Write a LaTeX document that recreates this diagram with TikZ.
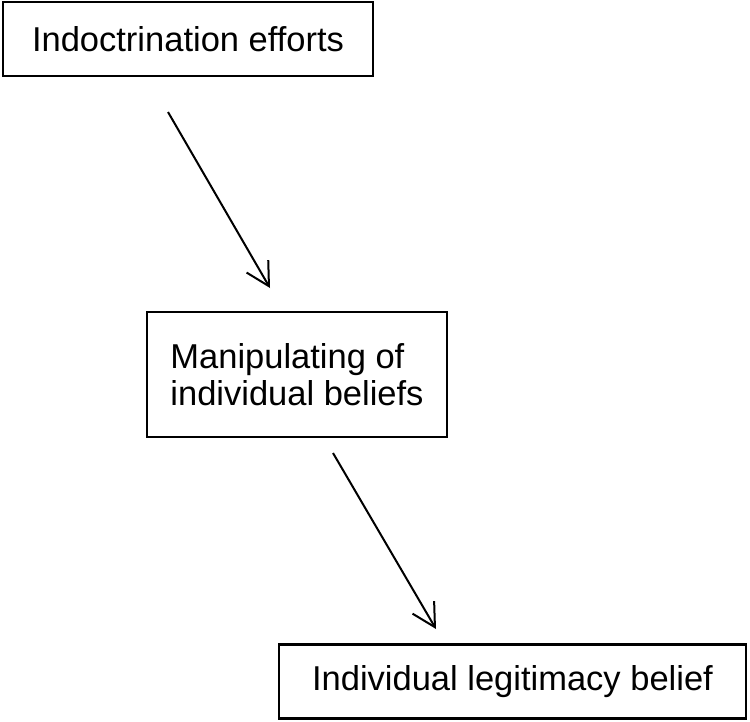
\documentclass[tikz,border=0pt]{standalone}
\usepackage{fontspec}
\setmainfont{Liberation Sans}
\usetikzlibrary{arrows.meta}

\begin{document}
\begin{tikzpicture}[x=1pt, y=-1pt,
        every node/.style={font=\fontsize{34.5}{37}\selectfont},
        stagebox/.style={draw, line width=2.2pt, inner sep=0pt, align=left},
        flowarrow/.style={line width=2pt, -{Straight Barb[length=23pt, width=25pt, line width=2pt]}}]
    \useasboundingbox (0,0) rectangle (750,721);
                \node[stagebox, minimum width=370pt, minimum height=74pt] (efforts) at (188,39) {Indoctrination efforts};
                \node[stagebox, minimum width=300pt, minimum height=125pt] (manip) at (297,374.5) {Manipulating of\\individual beliefs};
                \node[stagebox, minimum width=467pt, minimum height=74pt] (belief) at (512.5,681.5) {Individual legitimacy belief};
                % arrows stand free of the boxes
                \coordinate (effortsout) at (168,112);
                \coordinate (manipin) at (270,288);
                \coordinate (manipout) at (333,453);
                \coordinate (beliefin) at (436,629);
                \draw[flowarrow] (effortsout) -- (manipin);
                \draw[flowarrow] (manipout) -- (beliefin);
            \end{tikzpicture}
\end{document}
